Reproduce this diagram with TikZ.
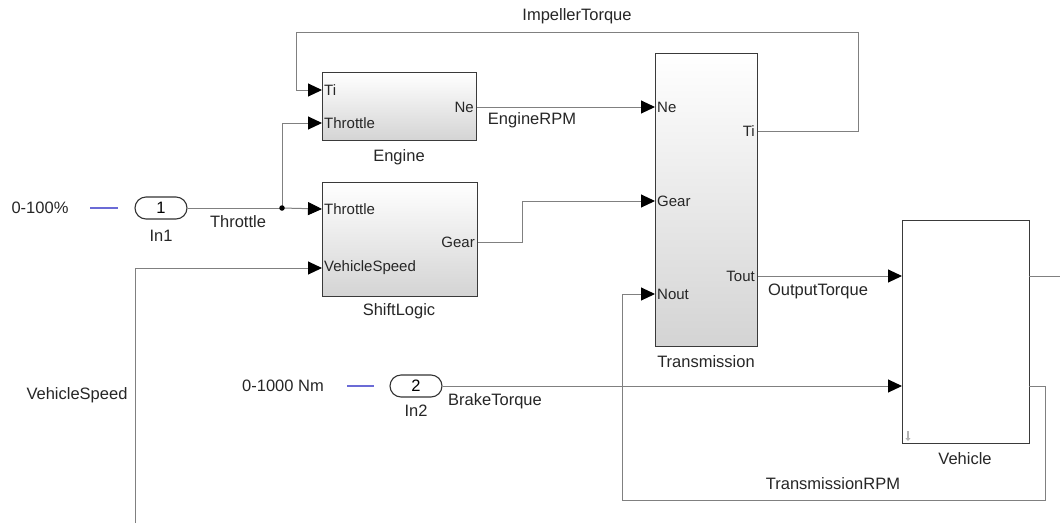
\documentclass[tikz,border=0pt]{standalone}
\usepackage{fontspec}
\setmainfont{Liberation Sans}
\usetikzlibrary{arrows.meta,positioning,calc}
\definecolor{wire}{HTML}{808080}
\definecolor{rim}{HTML}{3A3A3A}
\definecolor{txt}{HTML}{262626}
\definecolor{srcblue}{HTML}{6B6BD6}
\tikzset{
  block/.style={draw=rim, line width=1.4pt, top color=white, bottom color=black!17,
    anchor=north west, inner sep=0pt},
  plainblock/.style={block, top color=white, bottom color=white},
  inport/.style={anchor=west, inner sep=2pt, text=txt, font=\fontsize{15}{17}\selectfont},
  outport/.style={inport, anchor=east},
  lbl/.style={text=txt, font=\fontsize{16.5}{18}\selectfont, inner sep=1pt},
  capsule/.style={draw=black!80, line width=1.1pt, rounded corners=11pt, minimum width=52pt,
    minimum height=22pt, inner sep=0pt, font=\fontsize{16.5}{18}\selectfont},
  srcbar/.style={draw=srcblue, line width=2.4pt},
  sig/.style={draw=wire, line width=1pt, -{Triangle[length=14pt, width=13pt, color=black]}},
  line/.style={draw=wire, line width=1pt},
  jdot/.style={circle, fill=black, inner sep=0pt, minimum size=5.5pt}
}

\begin{document}
\begin{tikzpicture}[x=1pt, y=-1pt]
  \useasboundingbox (0,0) rectangle (1060,523);
  % sources
  \node[lbl] (src1) at (40,208) {0-100\%};
  \coordinate (bar1a) at (90,208);
  \coordinate (bar1b) at (118,208);
  \draw[srcbar] (bar1a) -- (bar1b);
  \node[capsule] (in1) at (161,208) {1};
  \node[lbl] (in1lbl) at (161,236) {In1};
  \node[lbl] (src2) at (283,386) {0-1000 Nm};
  \coordinate (bar2a) at (347,386);
  \coordinate (bar2b) at (374,386);
  \draw[srcbar] (bar2a) -- (bar2b);
  \node[capsule] (in2) at (416,386) {2};
  \node[lbl] (in2lbl) at (416,411) {In2};

  % blocks
  \node[block, minimum width=154pt, minimum height=68pt] (eng) at (322,72) {};
  \node[block, minimum width=155pt, minimum height=114pt] (sl) at (322,182) {};
  \node[block, minimum width=102pt, minimum height=293pt] (tr) at (655,53) {};
  \node[plainblock, minimum width=127pt, minimum height=223pt] (veh) at (902,220) {};
  \node[lbl] (englbl) at (399,157) {Engine};
  \node[lbl] (sllbl) at (399,311) {ShiftLogic};
  \node[lbl] (trlbl) at (706,362) {Transmission};
  \node[lbl] (vehlbl) at (965,459) {Vehicle};
  \draw[black!30, line width=1.6pt, -{Triangle[length=3pt, width=5pt]}] (908,431) -- (908,441);

  % ports
  \node[inport] (eng-ti) at (322,90) {Ti};
  \node[inport] (eng-thr) at (322,123) {Throttle};
  \node[outport] (eng-ne) at (476,107) {Ne};
  \node[inport] (sl-thr) at (322,209) {Throttle};
  \node[inport] (sl-vs) at (322,268) {VehicleSpeed};
  \node[outport] (sl-gear) at (477,242) {Gear};
  \node[inport] (tr-ne) at (655,107) {Ne};
  \node[inport] (tr-gear) at (655,201) {Gear};
  \node[inport] (tr-nout) at (655,294) {Nout};
  \node[outport] (tr-ti) at (757,131) {Ti};
  \node[outport] (tr-tout) at (757,276) {Tout};
  \coordinate (veh-out1) at (1029,276);
  \coordinate (veh-out2) at (1029,386);

  % routing points
  \coordinate (jn) at (282,208);
  \coordinate (fbR) at (858,32);
  \coordinate (fbL) at (296,32);
  \coordinate (gearmid) at (522,242);
  \coordinate (rpmR) at (1045,500);
  \coordinate (rpmL) at (622,500);
  \coordinate (vsEnd) at (135,523);
  \coordinate (spdOut) at (1060,276);

  % wires
  \draw[line] (in1.east) -- (jn);
  \draw[sig] (jn) -- (sl.west |- sl-thr);
  \draw[sig] (jn) |- (eng.west |- eng-thr);
  \node[jdot] (jndot) at (jn) {};
  \draw[sig] (eng.east |- eng-ne) -- (tr.west |- tr-ne);
  \draw[sig] (sl.east |- sl-gear) -- (gearmid) |- (tr.west |- tr-gear);
  \draw[sig] (tr.east |- tr-ti) -| (fbR) -- (fbL) |- (eng.west |- eng-ti);
  \draw[sig] (tr.east |- tr-tout) -- (veh.west |- tr-tout);
  \draw[sig] (in2.east) -- (veh.west |- in2);
  \draw[line] (veh-out1) -- (spdOut);
  \draw[sig] (veh-out2) -| (rpmR) -- (rpmL) |- (tr.west |- tr-nout);
  \draw[sig] (vsEnd) |- (sl.west |- sl-vs);

  % signal names
  \node[lbl] (thrname) at (238,222) {Throttle};
  \node[lbl] (itqname) at (577,16) {ImpellerTorque};
  \node[lbl] (rpmname) at (532,120) {EngineRPM};
  \node[lbl] (otqname) at (818,291) {OutputTorque};
  \node[lbl] (btqname) at (495,401) {BrakeTorque};
  \node[lbl] (trpmname) at (833,484) {TransmissionRPM};
  \node[lbl] (vsname) at (77,395) {VehicleSpeed};
\end{tikzpicture}
\end{document}
